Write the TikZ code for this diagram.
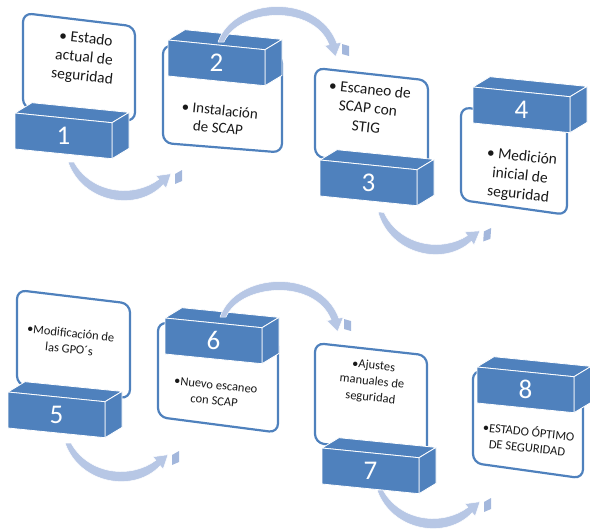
\documentclass[tikz,border=0pt]{standalone}
\usepackage{fontspec}
\setmainfont{Carlito}
\usepackage{tikz}

\definecolor{boxblue}{HTML}{4F81BD}
\definecolor{arcblue}{HTML}{B7C7E5}
\definecolor{arcshade}{HTML}{A3B7DC}

\tikzset{
  face/.style={fill=boxblue, draw=white, line width=0.8pt, line join=round},
  card/.style={draw=boxblue, line width=2.2pt, fill=white, rounded corners=9pt},
  flow/.style={fill=arcblue, draw=white, line width=0.5pt, line join=round},
  numtxt/.style={text=white, font=\fontsize{27}{30}\selectfont, inner sep=0pt},
  steptxt/.style={align=center, rotate=-6, inner sep=0pt, text=black!90},
  toptxt/.style={steptxt, font=\fontsize{15.5}{19}\selectfont},
  lowtxt/.style={steptxt, font=\fontsize{12.5}{16}\selectfont},
  pics/numblock/.style={code={
    \begin{scope}[yslant=-0.1]
      \filldraw[face] (0,0) -- (17,-12) -- (114,-12) -- (97,0) -- cycle;
      \filldraw[face] (97,0) -- (114,-12) -- (114,24) -- (97,36) -- cycle;
      \filldraw[face] (0,0) rectangle (97,36);
      \node[numtxt] (-num) at (48.5,18) {#1};
    \end{scope}
  }},
  pics/lowarrow/.style={code={
    \filldraw[flow] (0,0) .. controls (15,42) and (70,50) .. (95.2,22.7)
      -- (98.1,26.2) -- (103,11.7) -- (87.9,13.8) -- (90.8,17.3)
      .. controls (66,36) and (24,32) .. (6,0) -- cycle;
    \fill[arcshade] (107,12) -- (114,8) -- (114,19) -- (107,22) -- cycle;
  }},
  pics/higharrow/.style={code={
    \filldraw[flow] (0,0) .. controls (15,-45) and (100,-50) .. (118.9,1.2)
      -- (123.3,0.3) -- (117.6,14.7) -- (106.7,3.7) -- (111.1,2.8)
      .. controls (95,-38) and (22,-34) .. (6,0) -- cycle;
    \fill[arcshade] (124,2) -- (131,4) -- (131,14) -- (124,12) -- cycle;
  }},
}

\begin{document}
\begin{tikzpicture}[x=1pt, y=-1pt]
\useasboundingbox (0,0) rectangle (590,531);

%------------------ TOP ROW (1-4) ------------------%
\draw[card, shift={(23,13)},  yslant=-0.12] (0,0) rectangle (112,95);
\draw[card, shift={(163,45)}, yslant=-0.08] (0,0) rectangle (119,98);
\draw[card, shift={(315,68)}, yslant=-0.11] (0,0) rectangle (113,89);
\draw[card, shift={(461,107)}, yslant=-0.14] (0,0) rectangle (106,93);

\pic (b1) at (15,113)  {numblock=1};
\pic (b2) at (168,40)  {numblock=2};
\pic (b3) at (320,160) {numblock=3};
\pic (b4) at (473,87)  {numblock=4};

\node[toptxt] (t1) at (84,58)   {• Estado\\actual de\\seguridad};
\node[toptxt, font=\fontsize{15}{17.5}\selectfont] (t2) at (219,119) {• Instalación\\de SCAP};
\node[toptxt] (t3) at (368,108) {• Escaneo de\\SCAP con\\STIG};
\node[toptxt] (t4) at (520,176) {• Medición\\inicial de\\seguridad};

%------------------ BOTTOM ROW (5-8) ------------------%
\draw[card, shift={(17,290)},  yslant=-0.12] (0,0) rectangle (113,95);
\draw[card, shift={(158,322)}, yslant=-0.13] (0,0) rectangle (120,95);
\draw[card, shift={(315,343)}, yslant=-0.11] (0,0) rectangle (112,100);
\draw[card, shift={(473,370)}, yslant=-0.14] (0,0) rectangle (110,93);

\pic (b5) at (8,392)   {numblock=5};
\pic (b6) at (165,318) {numblock=6};
\pic (b7) at (322,448) {numblock=7};
\pic (b8) at (477,367) {numblock=8};

\node[lowtxt] (t5) at (70,341)  {•Modificación de\\las GPO´s};
\node[lowtxt] (t6) at (215,393) {•Nuevo escaneo\\con SCAP};
\node[lowtxt] (t7) at (372,382) {•Ajustes\\manuales de\\seguridad};
\node[lowtxt] (t8) at (528,439) {•ESTADO ÓPTIMO\\DE SEGURIDAD};

%------------------ ARROWS ------------------%
\pic (a12) at (68,162)  {lowarrow};
\pic (a23) at (218,42)  {higharrow};
\pic[rotate=-4] (a34) at (378,212) {lowarrow};
\pic (a56) at (65,443)  {lowarrow};
\pic (a67) at (220,317) {higharrow};
\pic (a78) at (377,490) {lowarrow};

\end{tikzpicture}
\end{document}
